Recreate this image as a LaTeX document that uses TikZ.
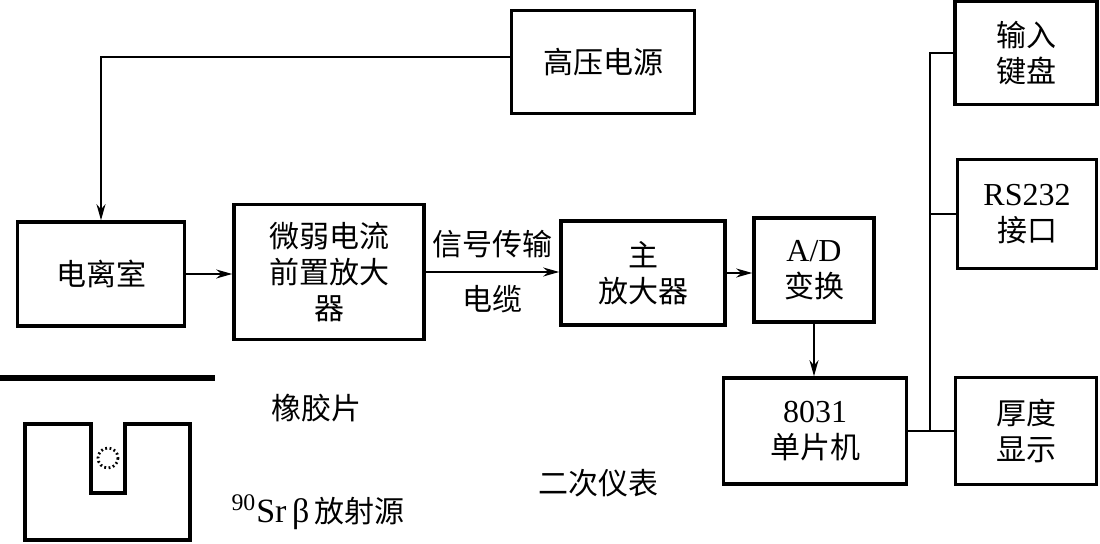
\documentclass[tikz,border=0pt]{standalone}
\usepackage{fontspec}
\setmainfont{Liberation Serif}
\newfontfamily\cjk{Noto Sans CJK SC}
\usetikzlibrary{arrows.meta}
\tikzset{
  box/.style = {draw, line width=1.8pt, align=center, inner sep=0pt},
  link/.style = {line width=1pt},
  arr/.style = {link, -{Stealth[length=8pt,width=4.5pt]}}
}

\begin{document}
\begin{tikzpicture}[x=0.5pt, y=-0.5pt, font=\cjk\fontsize{15}{18}\selectfont]
\useasboundingbox (0,0) rectangle (1100,544);
\node[box, minimum width=91.5pt, minimum height=51.5pt] (hv) at (603,62) {高压电源};
\node[box, minimum width=83.5pt, minimum height=52pt] (ion) at (101,274) {电离室};
\draw[arr] ([yshift=2.5pt]hv.west) -| (ion.north);
\node[box, minimum width=95pt, minimum height=67.5pt] (pre) at (329,272) {微弱电流\\前置放大\\器};
\draw[arr] (ion) -- (ion -| pre.west);
\node[box, minimum width=82pt, minimum height=52pt] (amp) at (643,273) {主\\放大器};
\draw[arr] (pre.east) -- node[above=3pt] {信号传输} node[below=3pt] {电缆} (pre.east -| amp.west);
\node[box, minimum width=60pt, minimum height=52pt] (ad) at (814,270) {{\rmfamily\fontsize{16}{18}\selectfont A/D}\\变换};
\draw[arr] (amp.east) -- (amp.east -| ad.west);
\node[box, minimum width=91.5pt, minimum height=53pt] (mcu) at (815,431) {{\rmfamily\fontsize{16}{18}\selectfont 8031}\\单片机};
\draw[arr] (ad.south) -- (ad.south |- mcu.north);
\node[box, minimum width=71pt, minimum height=51.5pt] (kbd) at (1026,53) {输入\\键盘};
\node[box, minimum width=69.5pt, minimum height=54.5pt] (rs) at (1027,214) {{\rmfamily\fontsize{16}{18}\selectfont RS232}\\接口};
\node[box, minimum width=70.5pt, minimum height=53.5pt] (disp) at (1026,431) {厚度\\显示};
\coordinate (bus) at (930,0);
\draw[link] (mcu.east) -- (disp.west);
\draw[link] (bus |- mcu.east) |- (kbd.west);
\draw[link] (rs.west) -- (rs.west -| bus);
\draw[line width=3pt] (0,378) -- (215,378);
\draw[line width=1.8pt] (25,424) -- (91,424) -- (91,493) -- (125,493) -- (125,424)
  -- (190,424) -- (190,540) -- (25,540) -- cycle;
\draw[line width=1.4pt, dash pattern=on 0.9pt off 1.3pt] (108,458) circle (10);
\node (rubber) at (316,408) {橡胶片};
\node (src) at (318,512) {{\rmfamily\fontsize{17}{18}\selectfont\textsuperscript{90}Sr\,β}\,放射源};
\node (meter) at (598,483) {二次仪表};
\end{tikzpicture}
\end{document}
